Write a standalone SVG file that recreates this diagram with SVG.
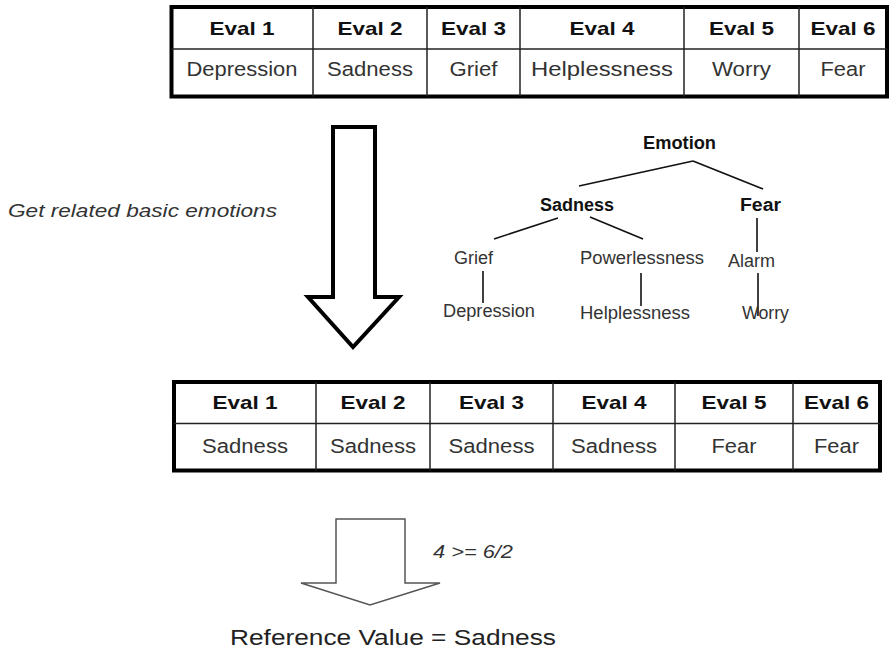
<svg xmlns="http://www.w3.org/2000/svg" width="890" height="651" viewBox="0 0 890 651">
<style>
  text { font-family: "Liberation Sans", Arial, sans-serif; }
  .hd { font-size: 19px; font-weight: bold; fill: #111; text-anchor: middle; }
  .bd { font-size: 20px; fill: #333; text-anchor: middle; }
  .outer { fill: #fff; stroke: #000; stroke-width: 4; }
  .inner { stroke: #222; stroke-width: 1.5; fill: none; }
  .tb { font-size: 17.5px; font-weight: bold; fill: #111; text-anchor: middle; }
  .tn { font-size: 17.5px; fill: #333; text-anchor: middle; }
  .edge { stroke: #111; stroke-width: 1.6; fill: none; }
  .it { font-style: italic; fill: #333; }
</style>
<rect width="890" height="651" fill="#fff"/>

<g id="table-original">
  <rect class="outer" x="171.5" y="7" width="715.5" height="89.5"/>
  <line class="inner" x1="171.5" y1="49" x2="887" y2="49"/>
  <line class="inner" x1="313" y1="7" x2="313" y2="96.5"/>
  <line class="inner" x1="427" y1="7" x2="427" y2="96.5"/>
  <line class="inner" x1="520" y1="7" x2="520" y2="96.5"/>
  <line class="inner" x1="684" y1="7" x2="684" y2="96.5"/>
  <line class="inner" x1="799" y1="7" x2="799" y2="96.5"/>
  <text class="hd" x="242" y="35" textLength="65" lengthAdjust="spacingAndGlyphs">Eval 1</text>
  <text class="hd" x="370" y="35" textLength="65" lengthAdjust="spacingAndGlyphs">Eval 2</text>
  <text class="hd" x="473.5" y="35" textLength="65" lengthAdjust="spacingAndGlyphs">Eval 3</text>
  <text class="hd" x="602" y="35" textLength="65" lengthAdjust="spacingAndGlyphs">Eval 4</text>
  <text class="hd" x="741.5" y="35" textLength="65" lengthAdjust="spacingAndGlyphs">Eval 5</text>
  <text class="hd" x="843" y="35" textLength="65" lengthAdjust="spacingAndGlyphs">Eval 6</text>
  <text class="bd" x="242" y="76" textLength="111" lengthAdjust="spacingAndGlyphs">Depression</text>
  <text class="bd" x="370" y="76" textLength="86" lengthAdjust="spacingAndGlyphs">Sadness</text>
  <text class="bd" x="473.5" y="76" textLength="48" lengthAdjust="spacingAndGlyphs">Grief</text>
  <text class="bd" x="602" y="76" textLength="142" lengthAdjust="spacingAndGlyphs">Helplessness</text>
  <text class="bd" x="741.5" y="76" textLength="59" lengthAdjust="spacingAndGlyphs">Worry</text>
  <text class="bd" x="843" y="76" textLength="45" lengthAdjust="spacingAndGlyphs">Fear</text>
</g>

<g id="arrow-big">
  <polygon points="333,127 375,127 375,297 399,297 353,347 308,297 333,297" fill="#fff" stroke="#000" stroke-width="4" stroke-linejoin="miter"/>
</g>
<g id="label-get">
  <text class="it" x="8" y="217" font-size="19" textLength="269" lengthAdjust="spacingAndGlyphs">Get related basic emotions</text>
</g>

<g id="tree-connectors">
  <line class="edge" x1="693" y1="161" x2="579" y2="186"/>
  <line class="edge" x1="693" y1="161" x2="763" y2="189"/>
  <line class="edge" x1="558" y1="218" x2="494" y2="239"/>
  <line class="edge" x1="590" y1="217" x2="643" y2="239"/>
  <line class="edge" x1="757" y1="218" x2="757" y2="252"/>
  <line class="edge" x1="483" y1="271" x2="483" y2="303"/>
  <line class="edge" x1="641" y1="273" x2="641" y2="306"/>
  <line class="edge" x1="758" y1="273" x2="758" y2="316"/>
</g>
<g id="node-emotion"><text class="tb" x="679.5" y="149" textLength="73" lengthAdjust="spacingAndGlyphs">Emotion</text></g>
<g id="node-sadness"><text class="tb" x="577" y="211" textLength="74" lengthAdjust="spacingAndGlyphs">Sadness</text></g>
<g id="node-fear"><text class="tb" x="760.5" y="211" textLength="41" lengthAdjust="spacingAndGlyphs">Fear</text></g>
<g id="node-grief"><text class="tn" x="473.5" y="264" textLength="39" lengthAdjust="spacingAndGlyphs">Grief</text></g>
<g id="node-powerlessness"><text class="tn" x="642" y="264" textLength="124" lengthAdjust="spacingAndGlyphs">Powerlessness</text></g>
<g id="node-alarm"><text class="tn" x="751.5" y="267" textLength="47" lengthAdjust="spacingAndGlyphs">Alarm</text></g>
<g id="node-depression"><text class="tn" x="489" y="317" textLength="92" lengthAdjust="spacingAndGlyphs">Depression</text></g>
<g id="node-helplessness"><text class="tn" x="635" y="319" textLength="110" lengthAdjust="spacingAndGlyphs">Helplessness</text></g>
<g id="node-worry"><text class="tn" x="765.5" y="319" textLength="47" lengthAdjust="spacingAndGlyphs">Worry</text></g>

<g id="table-basic">
  <rect class="outer" x="174" y="382" width="706" height="88.5"/>
  <line class="inner" x1="174" y1="423.5" x2="880" y2="423.5"/>
  <line class="inner" x1="316" y1="382" x2="316" y2="470.5"/>
  <line class="inner" x1="430" y1="382" x2="430" y2="470.5"/>
  <line class="inner" x1="553" y1="382" x2="553" y2="470.5"/>
  <line class="inner" x1="675" y1="382" x2="675" y2="470.5"/>
  <line class="inner" x1="793" y1="382" x2="793" y2="470.5"/>
  <text class="hd" x="245" y="409" textLength="65" lengthAdjust="spacingAndGlyphs">Eval 1</text>
  <text class="hd" x="373" y="409" textLength="65" lengthAdjust="spacingAndGlyphs">Eval 2</text>
  <text class="hd" x="491.5" y="409" textLength="65" lengthAdjust="spacingAndGlyphs">Eval 3</text>
  <text class="hd" x="614" y="409" textLength="65" lengthAdjust="spacingAndGlyphs">Eval 4</text>
  <text class="hd" x="734" y="409" textLength="65" lengthAdjust="spacingAndGlyphs">Eval 5</text>
  <text class="hd" x="836.5" y="409" textLength="65" lengthAdjust="spacingAndGlyphs">Eval 6</text>
  <text class="bd" x="245" y="453" textLength="86" lengthAdjust="spacingAndGlyphs">Sadness</text>
  <text class="bd" x="373" y="453" textLength="86" lengthAdjust="spacingAndGlyphs">Sadness</text>
  <text class="bd" x="491.5" y="453" textLength="86" lengthAdjust="spacingAndGlyphs">Sadness</text>
  <text class="bd" x="614" y="453" textLength="86" lengthAdjust="spacingAndGlyphs">Sadness</text>
  <text class="bd" x="734" y="453" textLength="45" lengthAdjust="spacingAndGlyphs">Fear</text>
  <text class="bd" x="836.5" y="453" textLength="45" lengthAdjust="spacingAndGlyphs">Fear</text>
</g>

<g id="arrow-small">
  <polygon points="336,519 405,519 405,583 440,583 370,605 301,583 336,583" fill="#fff" stroke="#555" stroke-width="1.5"/>
</g>
<g id="label-ratio">
  <text class="it" x="433" y="558" font-size="18" textLength="80" lengthAdjust="spacingAndGlyphs">4 &gt;= 6/2</text>
</g>
<g id="label-result">
  <text x="230" y="645" font-size="22" fill="#222" textLength="326" lengthAdjust="spacingAndGlyphs">Reference Value = Sadness</text>
</g>
</svg>
